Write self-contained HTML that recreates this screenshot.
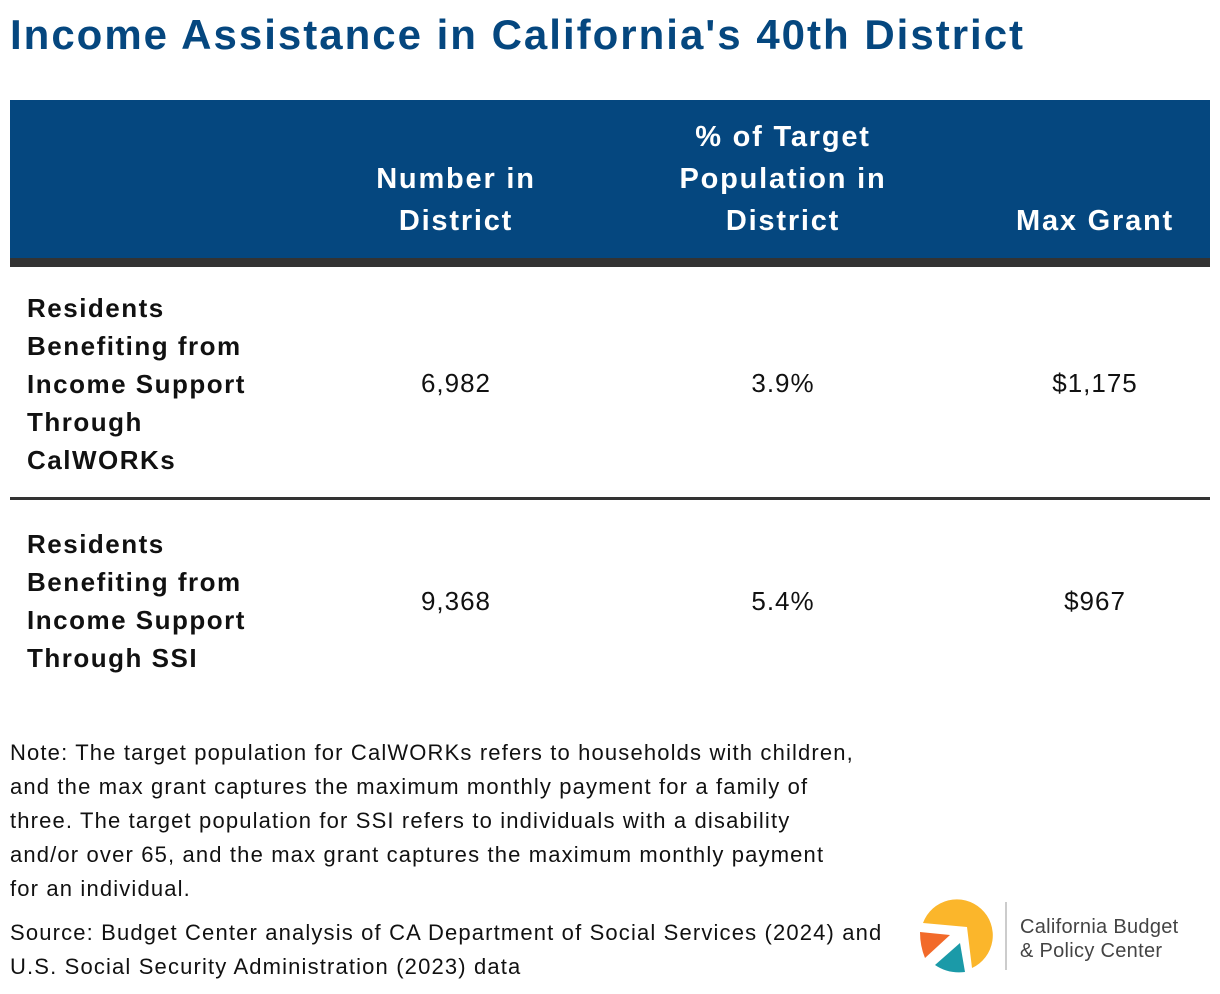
<!DOCTYPE html>
<html><head><meta charset="utf-8"><style>
*{margin:0;padding:0;box-sizing:border-box}
body{width:1220px;height:994px;background:#fff;font-family:"Liberation Sans",sans-serif;position:relative;overflow:hidden;color:#111}
.a{position:absolute}
h1{position:absolute;left:10px;top:11px;font-size:42px;font-weight:bold;color:#05477f;letter-spacing:2px;white-space:nowrap}
.hd{color:#fff;font-weight:bold;font-size:29px;line-height:42px;text-align:center;letter-spacing:1.8px}
.lab{font-weight:bold;font-size:26px;line-height:38px;left:27px;letter-spacing:1.5px}
.val{font-size:26px;text-align:center;width:300px;letter-spacing:1px}
.note{left:10px;font-size:22px;line-height:34px;color:#111;letter-spacing:1.15px;white-space:nowrap}
</style></head><body>
<h1>Income Assistance in California's 40th District</h1>
<div class="a" style="left:10px;top:100px;width:1200px;height:158px;background:#05477f"></div>
<div class="a" style="left:10px;top:258px;width:1200px;height:9px;background:#333"></div>
<div class="a hd" style="left:306px;top:158px;width:300px">Number in<br>District</div>
<div class="a hd" style="left:633px;top:116px;width:300px">% of Target<br>Population in<br>District</div>
<div class="a hd" style="left:945px;top:200px;width:300px">Max Grant</div>
<div class="a lab" style="top:289px">Residents<br>Benefiting from<br>Income Support<br>Through<br>CalWORKs</div>
<div class="a val" style="left:306px;top:368px">6,982</div>
<div class="a val" style="left:633px;top:368px">3.9%</div>
<div class="a val" style="left:945px;top:368px">$1,175</div>
<div class="a" style="left:10px;top:497px;width:1200px;height:3px;background:#333"></div>
<div class="a lab" style="top:525px">Residents<br>Benefiting from<br>Income Support<br>Through SSI</div>
<div class="a val" style="left:306px;top:586px">9,368</div>
<div class="a val" style="left:633px;top:586px">5.4%</div>
<div class="a val" style="left:945px;top:586px">$967</div>
<div class="a note" style="top:736px">Note: The target population for CalWORKs refers to households with children,<br>and the max grant captures the maximum monthly payment for a family of<br>three. The target population for SSI refers to individuals with a disability<br>and/or over 65, and the max grant captures the maximum monthly payment<br>for an individual.</div>
<div class="a note" style="top:916px">Source: Budget Center analysis of CA Department of Social Services (2024) and<br>U.S. Social Security Administration (2023) data</div>
<svg class="a" style="left:910px;top:890px" width="100" height="95" viewBox="0 0 100 95">
<path d="M13 33 L57 37 L62 78 A36 36 0 1 0 13 33 Z" fill="#fbb62b"/>
<path d="M10 42 L40 45 L15 68 Q10 56 10 42 Z" fill="#f26a2a"/>
<path d="M25 75 L50 53 L55 82 Q38 84 25 75 Z" fill="#1b9aa8"/>
<line x1="96" y1="12" x2="96" y2="80" stroke="#bbb" stroke-width="1.5"/>
</svg>
<div class="a" style="left:1020px;top:915px;font-size:20px;line-height:24px;color:#444;letter-spacing:0.3px">California Budget<br>&amp; Policy Center</div>
</body></html>
